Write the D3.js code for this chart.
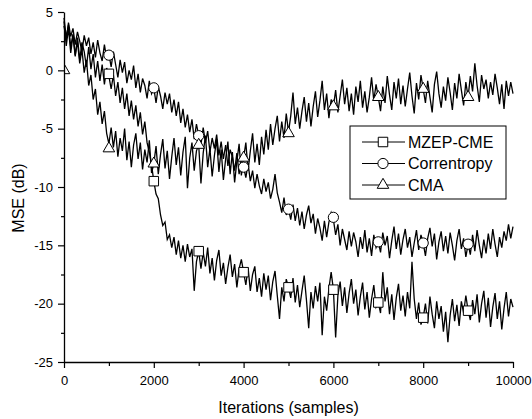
<!DOCTYPE html>
<html>
<head>
<meta charset="utf-8">
<script src="https://cdnjs.cloudflare.com/ajax/libs/d3/7.8.5/d3.min.js"></script>
<style>
body { margin: 0; background: #fff; }
text { font-family: "Liberation Sans", Arial, sans-serif; fill: #000; }
</style>
</head>
<body>
<svg width="532" height="419"></svg>
<script>
// one value every 50 samples
var step = 50;

var mzep = [4.2,
  2.1, 3.6, 1.5, 3.0, 1.2, 2.8, 0.9, 2.4, 1.6, 0.3, 2.0, 0.1, 1.4, -0.6, 0.8, -0.9, 0.5, -1.2, 0.2, -0.5,
  -1.6, -0.4, -2.2, -1.0, -2.8, -1.5, -3.3, -2.0, -3.9, -2.6, -4.2, -3.0, -4.8, -3.6, -5.5, -4.4, -6.2, -7.0, -8.1, -9.5,
  -10.6, -11.0, -12.4, -13.3, -13.0, -14.5, -14.1, -15.2, -14.3, -15.8, -14.6, -16.1, -15.0, -16.4, -14.9, -16.0, -15.3, -18.9, -16.4, -15.5,
  -17.0, -15.6, -16.8, -15.2, -17.4, -16.1, -18.0, -16.3, -15.4, -17.6, -16.5, -18.3, -16.9, -15.8, -17.7, -16.6, -18.6, -17.0, -16.2, -17.3,
  -18.4, -16.9, -18.9, -17.5, -16.8, -19.0, -17.8, -19.4, -17.4, -18.8, -17.6, -19.7, -18.1, -17.2, -19.3, -21.3, -18.6, -19.8, -17.9, -18.6,
  -19.5, -17.8, -19.9, -18.4, -20.3, -18.9, -17.6, -19.7, -22.1, -19.0, -20.4, -18.5, -19.8, -18.2, -22.7, -19.4, -20.6, -18.7, -17.3, -18.8,
  -22.9, -19.3, -18.1, -20.2, -18.6, -20.8, -19.1, -17.9, -20.0, -18.8, -21.0, -19.4, -18.2, -20.5, -19.0, -21.2, -19.6, -18.4, -20.3, -19.9,
  -20.8, -17.3, -19.8, -18.6, -20.9, -19.2, -21.4, -19.5, -18.3, -20.6, -19.3, -21.1, -19.0, -20.4, -16.4, -19.6, -21.3, -19.9, -21.8, -21.2,
  -20.0, -21.7, -19.4, -20.9, -22.1, -19.8, -21.3, -20.2, -22.4, -20.7, -23.3, -21.0, -19.6, -21.5, -20.1, -21.9, -19.8, -20.8, -19.3, -20.6,
  -21.4, -19.7, -20.9, -19.2, -21.6, -20.0, -18.9, -21.2, -19.5, -22.0, -20.3, -19.1, -21.3, -19.8, -22.2, -20.4, -19.0, -21.1, -19.6, -20.3];

var correntropy = [3.8,
  2.6, 4.1, 2.9, 3.6, 2.2, 3.3, 2.5, 1.6, 3.0, 2.1, 2.8, 1.4, 2.4, 1.1, 2.6, 1.5, 0.8, 2.2, 1.0, 1.4,
  0.3, 1.6, 0.5, -0.6, 0.9, -0.2, 0.7, -1.1, 0.0, -0.8, 0.4, -1.5, -0.3, -1.9, -0.7, -1.3, -2.4, -0.9, -2.0, -1.5,
  -2.8, -1.4, -2.2, -3.3, -1.9, -2.9, -2.0, -3.6, -2.5, -3.9, -2.7, -4.5, -3.3, -4.9, -3.8, -5.3, -4.2, -5.9, -4.6, -5.6,
  -6.4, -4.9, -6.2, -5.2, -7.0, -5.8, -6.7, -5.5, -7.3, -6.1, -7.6, -6.4, -8.2, -6.8, -7.4, -8.6, -7.1, -8.9, -7.7, -8.3,
  -9.2, -8.0, -9.5, -8.6, -10.1, -8.9, -9.9, -10.6, -9.3, -10.4, -9.6, -11.0, -10.2, -8.9, -10.5, -11.3, -12.2, -10.9, -12.4, -11.9,
  -12.8, -11.5, -12.9, -11.8, -13.3, -12.1, -13.6, -12.4, -11.6, -13.1, -12.3, -14.0, -12.7, -13.5, -14.6, -12.9, -14.3, -13.0, -12.2, -12.8,
  -14.1, -13.2, -15.0, -13.6, -14.5, -15.4, -13.8, -15.1, -13.9, -14.7, -16.0, -14.3, -15.3, -13.7, -15.6, -14.4, -15.9, -14.1, -15.2, -14.7,
  -15.6, -13.9, -15.0, -14.2, -16.1, -14.6, -13.4, -15.3, -14.0, -15.8, -14.5, -13.6, -15.2, -14.3, -16.0, -14.8, -13.7, -15.4, -14.1, -14.8,
  -15.9, -14.4, -13.5, -15.1, -14.0, -16.2, -14.7, -13.8, -15.5, -14.2, -15.7, -13.9, -15.0, -16.3, -14.6, -13.6, -15.3, -14.4, -16.0, -14.9,
  -15.8, -14.1, -15.5, -13.7, -15.0, -16.1, -14.5, -15.7, -14.0, -15.3, -13.6, -14.9, -16.0, -14.3, -15.2, -13.8, -14.6, -13.2, -14.4, -13.4];

var cma = [4.5,
  2.8, 3.9, 2.0, 3.1, 1.3, 2.5, 0.6, 1.8, -0.2, 0.9, -1.3, -0.4, -2.5, -1.6, -3.8, -2.7, -4.6, -3.5, -5.4, -6.3,
  -4.9, -6.6, -5.2, -7.4, -5.8, -6.9, -5.0, -7.7, -6.1, -8.3, -6.4, -5.4, -7.6, -6.2, -8.5, -6.8, -7.9, -6.0, -8.8, -8.0,
  -6.5, -8.9, -7.2, -5.9, -8.4, -6.9, -9.3, -7.4, -5.8, -8.1, -6.6, -9.0, -7.0, -5.7, -10.1, -7.5, -6.2, -8.6, -6.9, -6.4,
  -9.7, -7.1, -5.6, -8.3, -6.7, -9.1, -7.3, -5.9, -8.7, -6.8, -9.4, -7.6, -6.1, -8.9, -7.0, -9.6, -7.8, -6.3, -9.0, -7.5,
  -6.2, -8.6, -6.9, -5.4, -7.9, -6.3, -8.1, -5.7, -7.2, -5.1, -6.8, -4.6, -6.4, -5.0, -3.9, -6.1, -4.4, -5.8, -3.7, -5.3,
  -3.9, -1.9, -4.6, -3.2, -5.0, -3.5, -2.3, -4.4, -2.8, -4.8, -3.1, -1.8, -4.0, -2.6, -0.9, -3.4, -2.0, -4.1, -2.5, -3.1,
  -1.7, -3.6, -2.2, -0.8, -2.9, -1.5, -3.5, -2.0, -3.8, -1.4, -2.7, -0.9, -3.2, -1.8, -3.6, -2.3, -0.6, -2.6, -1.2, -2.3,
  -3.5, -1.4, -2.8, -0.5, -2.1, -3.4, -1.0, -2.4, -0.7, -2.9, -1.3, -3.1, -1.6, -0.2, -2.2, -3.7, -1.1, -2.5, -0.4, -1.6,
  -2.8, -0.9, -2.3, -3.6, -1.2, -0.1, -2.0, -3.2, -1.4, -2.6, -0.6, -1.9, -3.4, -1.1, -2.4, -0.3, -1.7, -3.0, -1.0, -2.3,
  -0.5, -1.8, 0.6, -1.3, -2.7, -0.4, -1.6, -0.8, -2.4, -1.0, -2.1, -0.3, -1.5, -2.9, -1.2, -3.3, -0.9, -2.2, -1.0, -2.0];

// marker symbols
var markSamples = [1000, 2000, 3000, 4000, 5000, 6000, 7000, 8000, 9000];
var mzepMarks = [-0.3, -9.5, -15.5, -17.3, -18.6, -18.8, -19.9, -21.2, -20.6];
var corrMarks = [1.3, -1.5, -5.6, -8.3, -11.9, -12.6, -14.7, -14.8, -14.9];
var cmaMarkSamples = [0, 1000, 2000, 3000, 4000, 5000, 6000, 7000, 8000, 9000];
var cmaMarks = [0, -6.7, -8.0, -6.4, -7.5, -5.4, -3.1, -2.3, -1.6, -2.3];

var xTicks = [0, 2000, 4000, 6000, 8000, 10000];
var xMinor = [1000, 3000, 5000, 7000, 9000];
var yTicks = [-25, -20, -15, -10, -5, 0, 5];
var yMinor = [-22.5, -17.5, -12.5, -7.5, -2.5, 2.5];

var names = ['MZEP-CME', 'Correntropy', 'CMA'];

var margin = {left: 64, top: 12};
var width = 449, height = 350;

var svg = d3.select('svg')
    .append('g')
    .attr('transform', 'translate(' + margin.left + ',' + margin.top + ')');

var x = d3.scaleLinear().domain([0, 10000]).range([0, width]);
var y = d3.scaleLinear().domain([-25, 5]).range([height, 0]);

svg.append('clipPath').attr('id', 'plotclip')
    .append('rect').attr('width', width + 10).attr('height', height);

var line = d3.line()
    .x(function(d, i) { return x(i * step); })
    .y(function(d) { return y(d); });

[correntropy, cma, mzep].forEach(function(s) {
    svg.append('path')
        .datum(s)
        .attr('d', line)
        .attr('fill', 'none')
        .attr('stroke', '#000')
        .attr('stroke-width', 1.3)
        .attr('stroke-linejoin', 'miter');
});

var symSquare = d3.symbol().type(d3.symbolSquare).size(90);
var symCircle = d3.symbol().type(d3.symbolCircle).size(82);
var symTri = d3.symbol().type(d3.symbolTriangle).size(58);

function drawMarks(xs, ys, sym) {
    svg.append('g').attr('clip-path', 'url(#plotclip)')
        .selectAll('path')
        .data(ys)
        .enter()
        .append('path')
        .attr('d', sym)
        .attr('transform', function(d, i) { return 'translate(' + x(xs[i]) + ',' + y(d) + ')'; })
        .attr('fill', '#fff')
        .attr('stroke', '#000')
        .attr('stroke-width', 1);
}
drawMarks(markSamples, mzepMarks, symSquare);
drawMarks(markSamples, corrMarks, symCircle);
drawMarks(cmaMarkSamples, cmaMarks, symTri);

// axes
svg.append('g')
    .attr('transform', 'translate(0,' + height + ')')
    .call(d3.axisBottom(x).tickValues(xTicks).tickSize(6).tickSizeOuter(0).tickPadding(8)
        .tickFormat(function(d) { return String(d); }));
svg.append('g')
    .attr('transform', 'translate(0,' + height + ')')
    .call(d3.axisBottom(x).tickValues(xMinor).tickSize(4).tickSizeOuter(0).tickFormat(''))
    .select('.domain').remove();

svg.append('g')
    .call(d3.axisLeft(y).tickValues(yTicks).tickSize(6).tickSizeOuter(0).tickPadding(5)
        .tickFormat(function(d) { return String(d); }));
svg.append('g')
    .call(d3.axisLeft(y).tickValues(yMinor).tickSize(3).tickSizeOuter(0).tickFormat(''))
    .select('.domain').remove();

svg.selectAll('.domain').attr('stroke-width', 1.3);
svg.selectAll('.tick line').attr('stroke-width', 1.2);
svg.selectAll('.tick text')
    .attr('font-size', 13)
    .attr('font-family', '"Liberation Sans", Arial, sans-serif');

// axis titles
svg.append('text')
    .attr('x', width / 2)
    .attr('y', 401)
    .attr('text-anchor', 'middle')
    .attr('font-size', 16)
    .text('Iterations (samples)');

svg.append('text')
    .attr('transform', 'translate(' + (24 - margin.left) + ',' + (198 - margin.top) + ') rotate(-90)')
    .attr('text-anchor', 'middle')
    .attr('font-size', 16)
    .text('MSE (dB)');

// legend
var legend = svg.append('g').attr('transform', 'translate(' + (350 - margin.left) + ',' + (126 - margin.top) + ')');
legend.append('rect')
    .attr('width', 156).attr('height', 73)
    .attr('fill', '#fff').attr('stroke', '#000').attr('stroke-width', 1);

var legSyms = [symSquare, symCircle, symTri];
names.forEach(function(n, i) {
    var ly = 16 + i * 21.5;
    legend.append('line')
        .attr('x1', 12).attr('x2', 55).attr('y1', ly).attr('y2', ly)
        .attr('stroke', '#000').attr('stroke-width', 1);
    legend.append('path')
        .attr('d', legSyms[i])
        .attr('transform', 'translate(33,' + ly + ')')
        .attr('fill', '#fff').attr('stroke', '#000');
    legend.append('text')
        .attr('x', 58).attr('y', ly).attr('dy', '0.35em')
        .attr('font-size', 16)
        .text(n);
});
</script>
</body>
</html>
